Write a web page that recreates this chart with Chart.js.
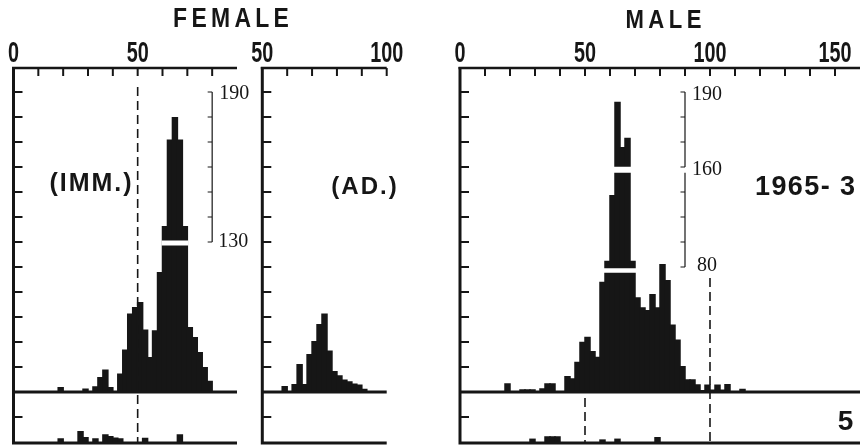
<!DOCTYPE html>
<html>
<head>
<meta charset="utf-8">
<script src="https://cdn.jsdelivr.net/npm/chart.js@4.4.1/dist/chart.umd.min.js"></script>
<style>
  html, body { margin: 0; padding: 0; background: #fff; overflow: hidden; }
  #wrap { position: relative; width: 861px; height: 446px; }
  #wrap canvas { position: absolute; left: 0; top: 0; }
</style>
</head>
<body>
<div id="wrap">
  <canvas id="femImm" width="861" height="446"></canvas>
  <canvas id="femAd" width="861" height="446"></canvas>
  <canvas id="male" width="861" height="446"></canvas>
</div>
<script>
// length classes (lower edge of each 2-unit class) and counts
const femImmBins = [18, 20, 22, 24, 26, 28, 30, 32, 34, 36, 38, 40, 42, 44, 46, 48, 50, 52, 54, 56, 58, 60, 62, 64, 66, 68, 70, 72, 74, 76, 78];
const femImmCounts = [2, 0, 0, 0, 0, 1.4, 0, 2.3, 6, 9, 2, 0, 7.4, 17, 31.4, 34, 36, 25, 14, 24.7, 48, 66.4, 101, 110, 101, 66.4, 26, 22, 16, 10, 4.5];
// lower strip (second sample)
const femImmSubBins = [18, 20, 22, 24, 26, 28, 30, 32, 34, 36, 38, 40, 42, 44, 46, 48, 50, 52, 54, 56, 58, 60, 62, 64, 66];
const femImmSubCounts = [0.9, 0, 0, 0, 2.3, 1.15, 0, 0.9, 0, 1.7, 1.35, 1.05, 0.9, 0, 0, 0, 0, 1, 0, 0, 0, 0, 0, 0, 1.7];

const femAdBins = [58, 60, 62, 64, 66, 68, 70, 72, 74, 76, 78, 80, 82, 84, 86, 88, 90];
const femAdCounts = [2.4, 0, 3.2, 11.2, 3.2, 15.2, 20.4, 27.2, 31.4, 16.6, 8.4, 6.7, 5, 4.3, 3.4, 3, 1.3];
const femAdSubBins = [];
const femAdSubCounts = [];

const maleBins = [18, 20, 22, 24, 26, 28, 30, 32, 34, 36, 38, 40, 42, 44, 46, 48, 50, 52, 54, 56, 58, 60, 62, 64, 66, 68, 70, 72, 74, 76, 78, 80, 82, 84, 86, 88, 90, 92, 94, 96, 98, 100, 102, 104, 106, 108, 110, 112];
const maleCounts = [3.5, 0, 0, 1.1, 1.1, 1.1, 0, 1.5, 3.5, 3.5, 0, 0, 6.4, 5.5, 12.1, 20.1, 22.1, 16.4, 14.1, 44.1, 52.5, 78.8, 116.1, 98, 101.7, 52.5, 37.9, 33.9, 32.8, 39.2, 33.9, 51.2, 44.8, 27, 21, 10.4, 5.1, 5.1, 3.1, 0.8, 3, 1, 3, 1, 3.2, 0, 0, 1.3];
const maleSubBins = [28, 30, 32, 34, 36, 38, 40, 42, 44, 46, 48, 50, 52, 54, 56, 58, 60, 62, 64, 66, 68, 70, 72, 74, 76, 78];
const maleSubCounts = [0.85, 0, 0, 1.3, 1.3, 1.3, 0, 0, 0, 0, 0, 0, 0, 0, 0.7, 0, 0, 0.85, 0, 0, 0, 0, 0, 0, 0, 1.15];

// axis labels
const femImmXLabels = [0, 50];
const femAdXLabels = [50, 100];
const maleXLabels = [0, 50, 100, 150];

const INK = '#161616';
const SANS = '"Liberation Sans", Arial, sans-serif';
const SERIF = '"Liberation Serif", "Times New Roman", serif';

function condensed(ctx, s, cx, by, size, sx) {
  ctx.save();
  ctx.font = 'bold ' + size + 'px ' + SANS;
  ctx.translate(cx, by);
  ctx.scale(sx, 1);
  ctx.textAlign = 'center';
  ctx.textBaseline = 'alphabetic';
  ctx.fillText(s, 0, 0);
  ctx.restore();
}

function spaced(ctx, s, cx, by, font, sx, gap) {
  ctx.save();
  ctx.font = font;
  ctx.textAlign = 'left';
  ctx.textBaseline = 'alphabetic';
  const chars = [...s];
  const w = chars.map(ch => ctx.measureText(ch).width * sx);
  const total = w.reduce((a, b) => a + b, 0) + gap * (chars.length - 1);
  let px = cx - total / 2;
  chars.forEach((ch, i) => {
    ctx.save();
    ctx.translate(px, by);
    ctx.scale(sx, 1);
    ctx.fillText(ch, 0, 0);
    ctx.restore();
    px += w[i] + gap;
  });
  ctx.restore();
}

// axes, breaks, dashed marks and inset scales
const framePlugin = {
  id: 'frame',
  afterDatasetsDraw(chart, args, o) {
    const ctx = chart.ctx;
    const x = chart.scales.x, y = chart.scales.y, yb = chart.scales.yb;
    const left = x.getPixelForValue(x.min), right = x.getPixelForValue(x.max);
    const top = y.getPixelForValue(y.max), base = y.getPixelForValue(0), bottom = yb.getPixelForValue(0);
    ctx.save();

    // scale breaks in the tall bars
    ctx.fillStyle = '#fff';
    (o.breaks || []).forEach(b => {
      const a = x.getPixelForValue(b.from), c = x.getPixelForValue(b.to);
      const t = y.getPixelForValue(b.hi), u = y.getPixelForValue(b.lo);
      ctx.fillRect(a - 1, t, c - a + 2, u - t);
    });

    ctx.fillStyle = INK;
    ctx.strokeStyle = INK;
    ctx.lineCap = 'butt';

    // frame lines
    ctx.lineWidth = 3;
    ctx.beginPath();
    ctx.moveTo(left, top - 1);
    ctx.lineTo(left, bottom + 1.5);
    ctx.moveTo(left - 1.5, base);
    ctx.lineTo(right, base);
    ctx.moveTo(left - 1.5, bottom);
    ctx.lineTo(right, bottom);
    ctx.stroke();
    ctx.lineWidth = 2.5;
    ctx.beginPath();
    ctx.moveTo(left - 1.5, top);
    ctx.lineTo(right, top);
    ctx.stroke();

    // ticks
    ctx.lineWidth = 2;
    ctx.beginPath();
    o.xTicks.forEach(v => {
      const px = x.getPixelForValue(v);
      ctx.moveTo(px, top);
      ctx.lineTo(px, top + 8);
    });
    o.yTicks.forEach(v => {
      const py = y.getPixelForValue(v);
      ctx.moveTo(left, py);
      ctx.lineTo(left + 9, py);
    });
    o.ybTicks.forEach(v => {
      const py = yb.getPixelForValue(v);
      ctx.moveTo(left, py);
      ctx.lineTo(left + 9, py);
    });
    ctx.stroke();

    o.xLabels.forEach(v => condensed(ctx, String(v), x.getPixelForValue(v), top - 6, 30, 0.66));

    // dashed reference lines
    ctx.lineWidth = 1.6;
    ctx.setLineDash([9, 5]);
    (o.dashes || []).forEach(d => {
      const px = x.getPixelForValue(d.x);
      ctx.beginPath();
      ctx.moveTo(px, y.getPixelForValue(d.from));
      ctx.lineTo(px, bottom);
      ctx.stroke();
    });
    ctx.setLineDash([]);

    // inset scales for the broken bars
    ctx.lineWidth = 1.2;
    ctx.font = '20px ' + SERIF;
    ctx.textAlign = 'left';
    ctx.textBaseline = 'middle';
    (o.brackets || []).forEach(b => {
      const px = x.getPixelForValue(b.x);
      ctx.beginPath();
      ctx.moveTo(px, y.getPixelForValue(b.from));
      ctx.lineTo(px, y.getPixelForValue(b.to));
      b.ticks.forEach(v => {
        const py = y.getPixelForValue(v);
        ctx.moveTo(px - 4.5, py);
        ctx.lineTo(px, py);
      });
      ctx.stroke();
      b.labels.forEach(l => ctx.fillText(l.t, px + l.dx, y.getPixelForValue(l.v) + l.dy));
    });

    // free text
    (o.notes || []).forEach(n => spaced(ctx, n.t, n.cx, n.by, n.font, n.sx, n.gap));

    ctx.restore();
  }
};

function makeChart(id, bins, counts, subBins, subCounts, xmin, xmax, pad, frame) {
  const common = { backgroundColor: INK, borderWidth: 0, grouped: false, categoryPercentage: 1, barPercentage: 1.3 };
  return new Chart(document.getElementById(id), {
    type: 'bar',
    data: {
      datasets: [
        Object.assign({ data: bins.map((b, i) => ({ x: b + 1, y: counts[i] })), yAxisID: 'y' }, common),
        Object.assign({ data: subBins.map((b, i) => ({ x: b + 1, y: subCounts[i] })), yAxisID: 'yb' }, common)
      ]
    },
    options: {
      responsive: false,
      animation: false,
      devicePixelRatio: 1,
      events: [],
      grouped: false,
      layout: { padding: pad },
      scales: {
        x: { type: 'linear', offset: false, grid: { offset: false }, min: xmin, max: xmax, display: false, ticks: { stepSize: 10 } },
        y: { min: -20.4, max: 129.6, display: false, ticks: { stepSize: 10 } },
        yb: { min: 0, max: 72.1, display: false, ticks: { stepSize: 10 } }
      },
      plugins: { legend: { display: false }, tooltip: { enabled: false }, frame: frame }
    },
    plugins: [framePlugin]
  });
}

const leftTicks = [10, 20, 30, 40, 50, 60, 70, 80, 90, 100, 110, 120];

makeChart('femImm', femImmBins, femImmCounts, femImmSubBins, femImmSubCounts, 0, 90,
  { left: 13.5, right: 624, top: 68, bottom: 3 }, {
    xTicks: [10, 20, 30, 40, 50, 60, 70, 80],
    yTicks: leftTicks,
    ybTicks: [5],
    xLabels: femImmXLabels,
    breaks: [{ from: 60, to: 70, lo: 58.6, hi: 60.6 }],
    dashes: [{ x: 50, from: 122 }],
    brackets: [{ x: 80, from: 60, to: 120, ticks: [60, 70, 80, 90, 100, 110, 120],
      labels: [{ v: 120, t: '190', dx: 7, dy: 2 }, { v: 60, t: '130', dx: 6, dy: 0 }] }],
    notes: [
      { t: 'FEMALE', cx: 231, by: 27, font: 'bold 27px ' + SANS, sx: 0.85, gap: 4.3 },
      { t: '(IMM.)', cx: 90.5, by: 191, font: 'bold 25px ' + SANS, sx: 1, gap: 2 }
    ]
  });

makeChart('femAd', femAdBins, femAdCounts, femAdSubBins, femAdSubCounts, 50, 100,
  { left: 262.3, right: 474.3, top: 68, bottom: 3 }, {
    xTicks: [60, 70, 80, 90, 100],
    yTicks: leftTicks,
    ybTicks: [5],
    xLabels: femAdXLabels,
    notes: [
      { t: '(AD.)', cx: 364, by: 194, font: 'bold 24px ' + SANS, sx: 1, gap: 2 }
    ]
  });

makeChart('male', maleBins, maleCounts, maleSubBins, maleSubCounts, 0, 160,
  { left: 460, right: 1, top: 68, bottom: 3 }, {
    xTicks: [10, 20, 30, 40, 50, 60, 70, 80, 90, 100, 110, 120, 130, 140, 150],
    yTicks: leftTicks,
    ybTicks: [5],
    xLabels: maleXLabels,
    breaks: [{ from: 58, to: 70, lo: 47.7, hi: 49.5 }, { from: 62, to: 68, lo: 87.7, hi: 90.1 }],
    dashes: [{ x: 50, from: -2.4 }, { x: 100, from: 45.6 }],
    brackets: [
      { x: 90, from: 90, to: 120, ticks: [90, 100, 110, 120],
        labels: [{ v: 120, t: '190', dx: 7, dy: 3 }, { v: 90, t: '160', dx: 7, dy: 3 }] },
      { x: 90, from: 50, to: 87.7, ticks: [50, 60, 70, 80],
        labels: [{ v: 50, t: '80', dx: 12, dy: -1 }] }
    ],
    notes: [
      { t: 'MALE', cx: 663.5, by: 28, font: 'bold 26px ' + SANS, sx: 0.85, gap: 4.5 },
      { t: '1965- 3', cx: 805, by: 195, font: 'bold 27px ' + SANS, sx: 1, gap: 1.4 },
      { t: '5', cx: 845.5, by: 430, font: 'bold 28px ' + SANS, sx: 1, gap: 0 }
    ]
  });
</script>
</body>
</html>
